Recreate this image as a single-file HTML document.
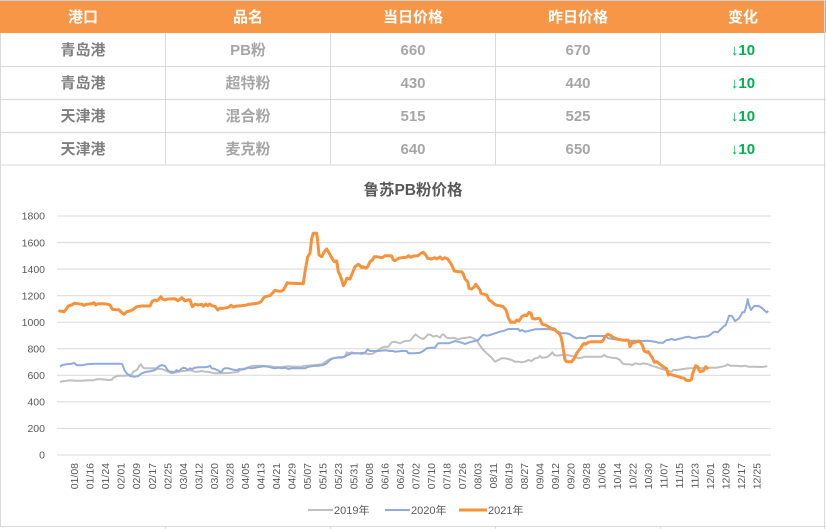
<!DOCTYPE html>
<html><head><meta charset="utf-8"><style>
html,body{margin:0;padding:0;background:#fff;}
svg{display:block;}
text{font-family:"Liberation Sans","Noto Sans CJK SC",sans-serif;}
</style></head><body>
<svg width="826" height="529" viewBox="0 0 826 529" xmlns="http://www.w3.org/2000/svg">
<!-- table -->
<rect x="0" y="0" width="826" height="529" fill="#fff"/>
<rect x="0" y="0" width="826" height="33" fill="#F79646"/>
<line x1="0" y1="0.5" x2="826" y2="0.5" stroke="#cfcfcf"/>
<g stroke="#d9d9d9" stroke-width="1" fill="none">
<line x1="0" y1="66.5" x2="826" y2="66.5"/>
<line x1="0" y1="99.5" x2="826" y2="99.5"/>
<line x1="0" y1="132.5" x2="826" y2="132.5"/>
<line x1="0" y1="165" x2="826" y2="165"/>
<line x1="165.5" y1="33" x2="165.5" y2="165"/>
<line x1="330.5" y1="33" x2="330.5" y2="165"/>
<line x1="495.5" y1="33" x2="495.5" y2="165"/>
<line x1="660.5" y1="33" x2="660.5" y2="165"/>
<line x1="0.5" y1="33" x2="0.5" y2="526"/>
<line x1="824.5" y1="0" x2="824.5" y2="529"/>
<line x1="0" y1="526.5" x2="826" y2="526.5"/>
<line x1="165.5" y1="526" x2="165.5" y2="529"/>
<line x1="330.5" y1="526" x2="330.5" y2="529"/>
<line x1="495.5" y1="526" x2="495.5" y2="529"/>
<line x1="660.5" y1="526" x2="660.5" y2="529"/>
</g>
<g font-size="15" font-weight="bold" text-anchor="middle" fill="#fff">
<text x="83" y="22">港口</text>
<text x="248" y="22">品名</text>
<text x="413" y="22">当日价格</text>
<text x="578" y="22">昨日价格</text>
<text x="743" y="22">变化</text>
</g>
<g font-size="15" font-weight="bold" text-anchor="middle">
<g fill="#7f7f7f">
<text x="83" y="55">青岛港</text>
<text x="83" y="88">青岛港</text>
<text x="83" y="121">天津港</text>
<text x="83" y="154">天津港</text>
</g>
<g fill="#a6a6a6">
<text x="248" y="55">PB粉</text>
<text x="248" y="88">超特粉</text>
<text x="248" y="121">混合粉</text>
<text x="248" y="154">麦克粉</text>
<text x="413" y="55">660</text>
<text x="413" y="88">430</text>
<text x="413" y="121">515</text>
<text x="413" y="154">640</text>
<text x="578" y="55">670</text>
<text x="578" y="88">440</text>
<text x="578" y="121">525</text>
<text x="578" y="154">650</text>
</g>
<g fill="#00B050">
<text x="743" y="55">↓10</text>
<text x="743" y="88">↓10</text>
<text x="743" y="121">↓10</text>
<text x="743" y="154">↓10</text>
</g>
</g>

<!-- chart title -->
<text x="413" y="195" font-size="15.5" font-weight="bold" fill="#595959" text-anchor="middle">鲁苏PB粉价格</text>

<!-- gridlines -->
<g stroke="#d9d9d9" stroke-width="1">
<line x1="57" y1="216" x2="771" y2="216"/>
<line x1="57" y1="242.6" x2="771" y2="242.6"/>
<line x1="57" y1="269.1" x2="771" y2="269.1"/>
<line x1="57" y1="295.7" x2="771" y2="295.7"/>
<line x1="57" y1="322.2" x2="771" y2="322.2"/>
<line x1="57" y1="348.8" x2="771" y2="348.8"/>
<line x1="57" y1="375.3" x2="771" y2="375.3"/>
<line x1="57" y1="401.9" x2="771" y2="401.9"/>
<line x1="57" y1="428.4" x2="771" y2="428.4"/>
<line x1="57" y1="455" x2="771" y2="455"/>
</g>
<g font-size="10.5" fill="#595959" text-anchor="end">
<text x="45" y="219.7">1800</text>
<text x="45" y="246.3">1600</text>
<text x="45" y="272.8">1400</text>
<text x="45" y="299.4">1200</text>
<text x="45" y="325.9">1000</text>
<text x="45" y="352.5">800</text>
<text x="45" y="379">600</text>
<text x="45" y="405.6">400</text>
<text x="45" y="432.1">200</text>
<text x="45" y="458.7">0</text>
</g>

<!-- x labels -->
<g font-size="10.5" fill="#595959" text-anchor="end" id="xl">
</g>

<!-- series -->
<polyline fill="none" stroke="#BFBFBF" stroke-width="2" stroke-linejoin="round" points="60,381.7 65,381 70,380.3 75,380.7 81.7,380.7 88.3,380.3 93.3,380.3 96.7,379.3 101.7,379.3 108.3,380 111.7,379.7 113.3,377.7 115.7,376.7 118.3,375.7 126.7,375.7 131.7,374.3 133.3,371.7 135.7,370.7 137.7,369 139.3,365.7 141,364.3 142.3,366.7 144.3,368.3 155,368.3 158.3,369 161.7,369 165,370.3 168.3,371.7 171.7,373.3 175,372.7 178.3,371.7 181.7,371 185,371 188.3,370.3 191.7,370.7 195,371.7 198.3,371.7 201.7,371 205,371.7 208.3,371.7 211.7,372.7 215,373.3 228.3,373 235,372.3 238.3,371.7 241.7,369 245,368.3 248.3,367.3 251.7,366 255,365.7 261.7,365.7 268.3,366.3 275,367 281.7,367 288.3,366.3 295,366.7 301.7,366.7 305,365.7 308.3,365.7 315,365 321.7,364.3 326.7,361 330,359 335,357.7 341.7,357.7 345,356.7 346.7,352.3 348.3,353.3 351.7,352.3 354.3,353.3 358.3,353.3 361.7,354 365,353.3 368.3,354 371.7,354 375,352.3 378.3,350 381.7,347.7 385,346.7 388.3,346.7 391.7,342.3 395,341.7 400,343.3 405,341 410,340.7 413.3,336.7 415.7,334.3 418.3,336.7 421,338.3 423.3,339 425,337.7 428.3,334.3 431,335 433.3,336.7 436.7,335.7 440,337.7 441.7,335 443.3,334.3 446.7,337.7 450,338.3 453.3,337.7 458.3,339.3 461.7,338.3 466.7,337.7 470,337 473.3,338.3 476.7,340 480,345.7 483.3,350 486.7,353.3 491.7,357.7 495,361.7 498.3,360 501.7,358.3 505,358.3 508.3,359 511.7,360 515,361.7 518.3,361.7 521.7,362.3 525,361.7 528.3,360 531.7,361 535,358.3 538.3,357.7 540,356 541.7,357.7 546.7,357.3 550,355 552.3,352.3 554.3,355 556.7,355.7 561.7,355 566.7,355 571.7,356 575,356.7 578.3,358.3 581.7,357.7 585,356.7 601.7,356.7 604.3,355 606.7,356.7 611.7,357.7 616.7,358.3 620,360 622.3,363.3 625,364.3 630,364.3 632.3,365 635,363.3 640,364.3 643.3,363.3 648.3,364.3 651.7,365.7 655,366.7 660,368.3 665,370 668.3,371 671.7,371.7 673.3,370 676.7,370 681.7,369.3 688.3,368.3 695,368.3 698.3,367.7 701.7,368.3 706.7,367.7 716.7,367.7 721.7,366.7 725.7,365.7 727.7,364.3 730,365.7 735,365.7 741.7,366.3 745,365.7 748.3,366.7 755,366.7 761.7,367 767.3,366.3"/>
<polyline fill="none" stroke="#8FAADC" stroke-width="2" stroke-linejoin="round" points="60,366.7 62.3,365 66.7,364.3 71.7,363.7 74.3,363 76.7,365.3 81.7,365.3 86.7,364.3 95,363.7 121.7,363.7 122.7,365 124.3,370 126.7,373.3 130,376 135,376.7 138.3,376 141.7,373.3 146.7,371.7 151.7,371 155,370 158.3,366.7 161.7,365 165,366 168.3,371 171.7,372 175,371.7 176.7,370 179,371.7 181,369 183.3,367.7 185.7,368.3 187.7,370 190,368.3 192.3,369 195,367.7 198.3,367.3 205,367.3 208.3,366.7 210,365.7 211.7,368.3 215,369 217.7,370.3 220,371.7 221.7,371.7 223.3,369 225,368.3 228.3,368.3 231.7,369.3 235,370 237.7,370.3 239,369 241.7,369.7 245,369 248.3,367.7 251.7,368.3 255,367.7 259,367 263.3,366.3 268.3,366.7 271.7,367.7 275,368.3 278.3,367.7 281.7,368.3 285,367.7 288.3,369 291.7,368.3 305,368.3 308.3,366.7 313.3,366 318.3,365.7 323.3,365 326.7,363.3 330,360 333.3,358.3 338.3,357.3 343.3,357.3 345,356 348.3,355 351.7,353.3 360,353.3 365,352.7 367.7,349.3 370,351 378.3,351 385,350.3 390,351 393.3,351 395,351.7 401.7,351 406.7,351 408.3,353.3 415,353.3 420,352.7 423.3,351 426.7,348.3 431.7,347.7 435,347.7 436.7,345 438.3,343.3 448.3,343.3 451.7,342.3 455,341 458.3,341.7 461.7,342.7 465,344 468.3,342.7 471.7,341.7 475,341 478.3,340 481.7,336 483.3,335 486.7,335.7 490,335 495,333.3 500,331.7 503.3,331 508.3,329 518.3,329 520,331 521.7,330 525,331.7 528.3,331 535,329.3 545,329 550,329.3 553.3,330 556.7,331 559,332.3 561.7,333.3 566.7,333.3 570,334.3 573.3,336.7 576.7,338.3 580,337.7 585,338.3 587.7,336.7 590,336 605,336 608.3,338.3 615,339.3 621.7,340 628.3,340.7 635,340.7 641.7,341 648.3,340.7 655,341.7 658.3,342.7 663.3,342.7 666.7,340 668.3,340 671.7,339 675,340 678.3,339 681.7,338.3 685,337.3 688.3,336.7 691.7,337.7 695,338.3 698.3,337.3 701.7,336.7 705,336.7 708.3,336 711,334.3 713.3,332.3 715,331.7 717.7,332.3 720,330 723.3,326.7 725.7,325 727.7,320 729,315.7 731.7,315.7 733.3,318.3 735,321 736.7,320 739,318.3 741,315 742.3,312.3 744.3,312.3 745.7,308.3 747,303.3 747.7,299 749,305 751,310 752.3,308.3 754.3,306 757.7,306 760,306.7 762.3,308.3 765,311 766.7,312.3 768.3,311"/>
<polyline fill="none" stroke="#F7923A" stroke-width="3" stroke-linejoin="round" stroke-linecap="round" points="59.7,311 64.3,311.7 68.3,306 71.7,305 74.3,303.3 78.3,303.7 81.7,304.3 84.3,305.3 86.7,304.3 91.7,303.7 94,302.7 95.7,305 97.7,303.7 101.7,303.7 106.7,304 110,305 112.3,309.3 115,309.7 119,309.7 120.7,311.7 124,314.3 126.7,311.7 130,311 133.3,309.3 136.7,306.7 141.7,306 150,306 152.3,301 155,300 156.7,301 159,299 161,296.7 162.3,299 165,300 167.7,299 175,298.7 177.7,300.7 180,299.3 181.7,297.7 183.3,299 185,301 188.3,299.7 190,300 192.3,306.7 195,304.3 198.3,305 201.7,304.3 203.3,306.3 205.7,304 207.7,305.7 209.7,304 211.7,305.7 215,306.3 217.7,310 220,308.3 223.3,308.3 226.7,307.7 229,307 231,305.3 233.3,307 236.7,306 241.7,305.7 246.7,305 248.3,304.3 251,304.3 252.7,303.7 255,303.7 258.3,303 261,301.7 264.3,297 266.7,296.3 270,295.7 272.3,293.3 275,290.3 276.7,290.7 279,291.3 281.7,291 283.3,290 285.7,285.7 287.3,282.7 290,283.3 292.3,283.3 303.3,283.7 305,271.7 307.7,256.7 310,253.3 311.7,238.3 313.3,233.3 316.7,233.3 317.7,241.7 319,255 321.7,256.7 324.3,251.7 326.7,249 328.3,251.7 331.7,257.7 334.3,261.7 336.7,261 338.3,271.7 340,275 341.7,280 343.3,285.7 345,283.3 346.7,278.3 350,279 352.3,273.3 355,266.7 358.3,264.3 360,265.7 361.7,267.7 363.3,266.7 365.7,268.3 367.7,266.7 370,261.7 372.3,260 374.3,256.7 376.7,256.7 380,257.3 382.3,257.7 385,255.7 389,255.7 391.7,256 393.3,260 395,260.7 398.3,258.3 401.7,257.7 406.7,257.3 408.3,255.7 411,257.3 413.3,256 417.7,255.7 421,253.3 423.3,252.3 425.7,255 427.7,258.3 431.7,259 435,257.7 436.7,259 440,257 442.3,259.3 445,257.7 447.7,259 450,262.3 451.7,265 454.3,271 458.3,271.7 461.7,271.7 463.3,274 465,279 467.7,281.7 469,288.3 471.7,289 474.3,286.7 475.7,284.3 477.7,286.7 480,290 481,293.3 483.3,294 486.7,295 489,300 491.7,301.7 494.3,304 496.7,305.3 500,305.7 503.3,306.7 506,310 508.3,317.7 510.7,322.3 515,322.3 516.7,320 519,321 521.7,316.7 525,315 526.7,315.7 529,312.3 531,313.3 532.3,318.3 535,319 538.3,318.3 540,319 541,321.7 542.3,324.3 545.7,325 548.3,326.7 551,328.3 554.3,329 556.7,331.7 559,333.3 561,336.7 562.3,343.3 563.7,351.7 565,360 566.7,361.7 571.7,361.7 574.3,358.3 576.7,353.3 578.3,351 581,347.7 582.3,345 584.3,343.3 585.7,344.3 588.3,342.3 591.7,341.7 601.7,341.7 603.3,340 605,336.7 607.7,334.3 610,335 613.3,337.3 616.7,339 621.7,340 625,340.3 627.7,340 629,341.7 630,346.7 631.7,343.3 635,342.3 638.3,341 640,341.7 642.3,345 644.3,351 646.7,352.3 648.3,351.7 650,354.3 652.3,357.7 654.3,362.3 656.7,361.7 660,364.3 663.3,366.7 666.7,369 668.3,375 670,374.3 672.3,375 675,375.7 678.3,376.7 681.7,377.7 684.3,378.3 685.7,380 688.3,380.7 690,380.3 691.7,379 692.3,375 694.3,369 695.7,365.7 697.7,366.7 699,370 700,371.7 701.7,371 703.3,371 704.3,369 705.7,366.7 707.3,368.3"/>

<!-- x-axis labels -->
<g font-size="10.5" fill="#595959" text-anchor="end">
<text transform="translate(74.5,463) rotate(-90)" dy="0.35em">01/08</text>
<text transform="translate(90.0,463) rotate(-90)" dy="0.35em">01/16</text>
<text transform="translate(105.5,463) rotate(-90)" dy="0.35em">01/24</text>
<text transform="translate(121.0,463) rotate(-90)" dy="0.35em">02/01</text>
<text transform="translate(136.5,463) rotate(-90)" dy="0.35em">02/09</text>
<text transform="translate(152.1,463) rotate(-90)" dy="0.35em">02/17</text>
<text transform="translate(167.6,463) rotate(-90)" dy="0.35em">02/25</text>
<text transform="translate(183.1,463) rotate(-90)" dy="0.35em">03/04</text>
<text transform="translate(198.6,463) rotate(-90)" dy="0.35em">03/12</text>
<text transform="translate(214.1,463) rotate(-90)" dy="0.35em">03/20</text>
<text transform="translate(229.6,463) rotate(-90)" dy="0.35em">03/28</text>
<text transform="translate(245.1,463) rotate(-90)" dy="0.35em">04/05</text>
<text transform="translate(260.6,463) rotate(-90)" dy="0.35em">04/13</text>
<text transform="translate(276.1,463) rotate(-90)" dy="0.35em">04/21</text>
<text transform="translate(291.6,463) rotate(-90)" dy="0.35em">04/29</text>
<text transform="translate(307.2,463) rotate(-90)" dy="0.35em">05/07</text>
<text transform="translate(322.7,463) rotate(-90)" dy="0.35em">05/15</text>
<text transform="translate(338.2,463) rotate(-90)" dy="0.35em">05/23</text>
<text transform="translate(353.7,463) rotate(-90)" dy="0.35em">05/31</text>
<text transform="translate(369.2,463) rotate(-90)" dy="0.35em">06/08</text>
<text transform="translate(384.7,463) rotate(-90)" dy="0.35em">06/16</text>
<text transform="translate(400.2,463) rotate(-90)" dy="0.35em">06/24</text>
<text transform="translate(415.7,463) rotate(-90)" dy="0.35em">07/02</text>
<text transform="translate(431.2,463) rotate(-90)" dy="0.35em">07/10</text>
<text transform="translate(446.7,463) rotate(-90)" dy="0.35em">07/18</text>
<text transform="translate(462.3,463) rotate(-90)" dy="0.35em">07/26</text>
<text transform="translate(477.8,463) rotate(-90)" dy="0.35em">08/03</text>
<text transform="translate(493.3,463) rotate(-90)" dy="0.35em">08/11</text>
<text transform="translate(508.8,463) rotate(-90)" dy="0.35em">08/19</text>
<text transform="translate(524.3,463) rotate(-90)" dy="0.35em">08/27</text>
<text transform="translate(539.8,463) rotate(-90)" dy="0.35em">09/04</text>
<text transform="translate(555.3,463) rotate(-90)" dy="0.35em">09/12</text>
<text transform="translate(570.8,463) rotate(-90)" dy="0.35em">09/20</text>
<text transform="translate(586.3,463) rotate(-90)" dy="0.35em">09/28</text>
<text transform="translate(601.8,463) rotate(-90)" dy="0.35em">10/06</text>
<text transform="translate(617.4,463) rotate(-90)" dy="0.35em">10/14</text>
<text transform="translate(632.9,463) rotate(-90)" dy="0.35em">10/22</text>
<text transform="translate(648.4,463) rotate(-90)" dy="0.35em">10/30</text>
<text transform="translate(663.9,463) rotate(-90)" dy="0.35em">11/07</text>
<text transform="translate(679.4,463) rotate(-90)" dy="0.35em">11/15</text>
<text transform="translate(694.9,463) rotate(-90)" dy="0.35em">11/23</text>
<text transform="translate(710.4,463) rotate(-90)" dy="0.35em">12/01</text>
<text transform="translate(725.9,463) rotate(-90)" dy="0.35em">12/09</text>
<text transform="translate(741.4,463) rotate(-90)" dy="0.35em">12/17</text>
<text transform="translate(756.9,463) rotate(-90)" dy="0.35em">12/25</text>
</g>

<!-- legend -->
<line x1="308" y1="510" x2="333" y2="510" stroke="#BFBFBF" stroke-width="2"/>
<text x="334" y="514" font-size="11" fill="#595959">2019年</text>
<line x1="385" y1="510" x2="410" y2="510" stroke="#8FAADC" stroke-width="2"/>
<text x="411" y="514" font-size="11" fill="#595959">2020年</text>
<line x1="459" y1="510" x2="487" y2="510" stroke="#F7923A" stroke-width="3"/>
<text x="488" y="514" font-size="11" fill="#595959">2021年</text>
</svg>
</body></html>
